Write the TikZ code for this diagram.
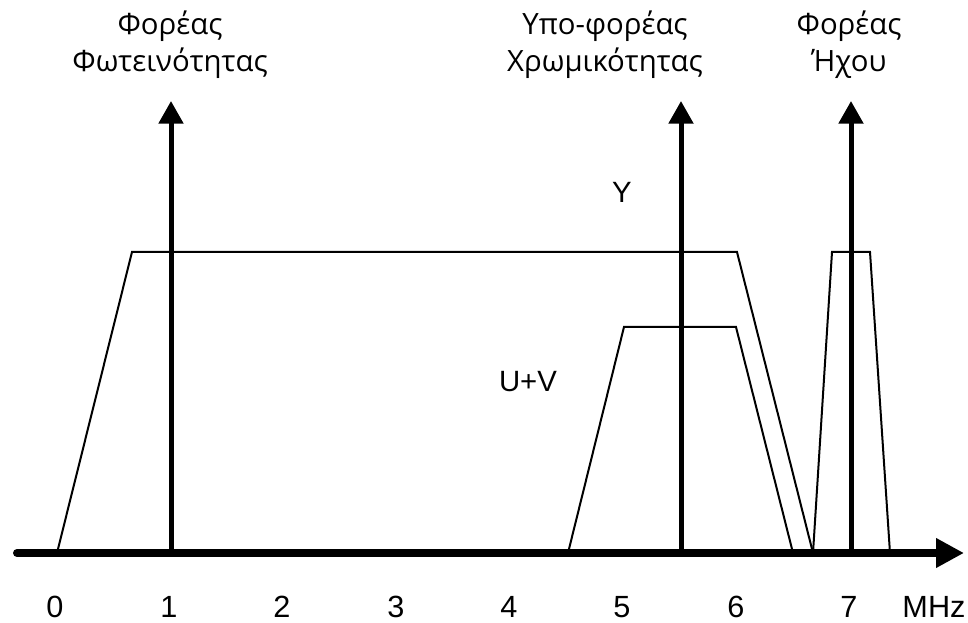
\documentclass[tikz,border=0pt]{standalone}
\usepackage{fontspec}
\setmainfont{Liberation Sans}
\newfontfamily\titlefont{Open Sans}
\usetikzlibrary{arrows.meta}
\begin{document}
\begin{tikzpicture}[x=0.75pt,y=-0.75pt,
  band/.style={line width=1.5pt, line join=miter},
  carrier/.style={line width=3.75pt, -{Triangle[length=17pt,width=18pt]}},
  axisline/.style={line width=6pt, line cap=round, -{Triangle[length=21pt,width=21pt]}},
  lbl/.style={font=\titlefont\fontsize{22}{28}\selectfont, align=center, inner sep=0pt},
  sig/.style={font=\fontsize{22}{26}\selectfont, inner sep=0pt},
  tick/.style={font=\fontsize{23}{26}\selectfont, inner sep=0pt}]
\useasboundingbox (0,0) rectangle (968,623);
% spectra
\draw[band] (57,553) -- (132,252) -- (737,252) -- (813,553);
\draw[band] (568,553) -- (624,327) -- (736,327) -- (793,553);
\draw[band] (813,553) -- (832,252) -- (870,252) -- (890,553);
% carriers
\coordinate (c1b) at (171,553); \coordinate (c1t) at (171,101);
\coordinate (c2b) at (681,553); \coordinate (c2t) at (681,101);
\coordinate (c3b) at (851,553); \coordinate (c3t) at (851,101);
\draw[carrier] (c1b) -- (c1t);
\draw[carrier] (c2b) -- (c2t);
\draw[carrier] (c3b) -- (c3t);
% axis
\coordinate (ax0) at (17,553); \coordinate (ax1) at (964,553);
\draw[axisline] (ax0) -- (ax1);
% titles
\node[lbl] (t1) at (170,45) {Φορέας\\Φωτεινότητας};
\node[lbl] (t2) at (605,45) {Υπο-φορέας\\Χρωμικότητας};
\node[lbl] (t3) at (849,45) {Φορέας\\Ήχου};
\node[sig] (ly) at (622,192) {Y};
\node[sig] (luv) at (528,382) {U+V};
% ticks
\node[tick] (n0) at (55,607) {0};
\node[tick] (n1) at (169,607) {1};
\node[tick] (n2) at (282,607) {2};
\node[tick] (n3) at (396,607) {3};
\node[tick] (n4) at (509,607) {4};
\node[tick] (n5) at (622,607) {5};
\node[tick] (n6) at (736,607) {6};
\node[tick] (n7) at (849,607) {7};
\node[tick] (nm) at (934,607) {MHz};
\end{tikzpicture}
\end{document}
